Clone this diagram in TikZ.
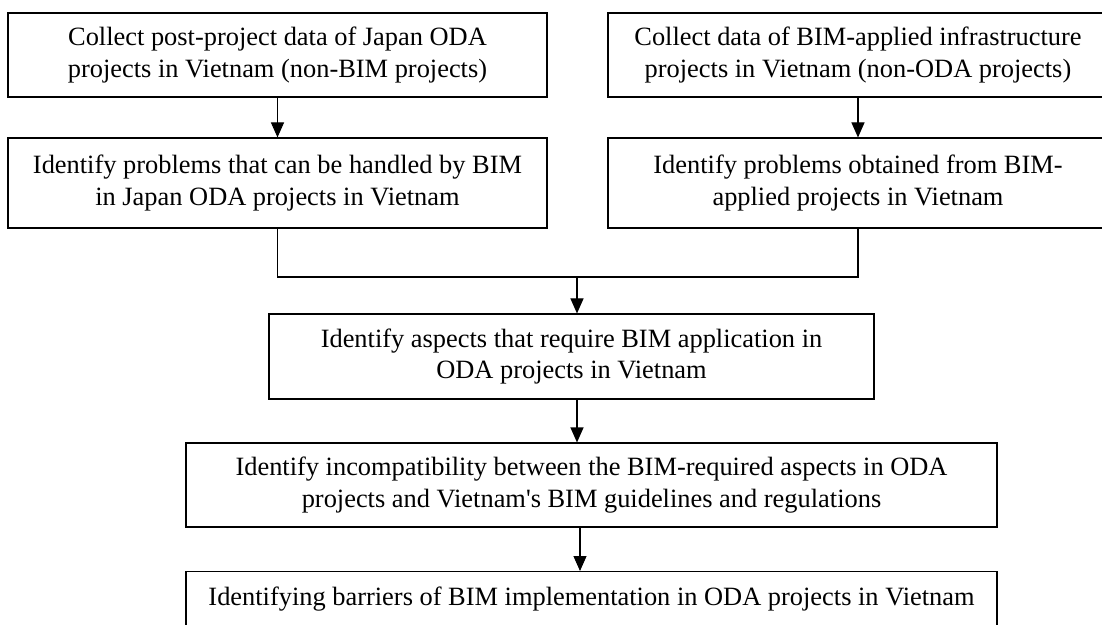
\documentclass[tikz,border=0pt]{standalone}
\usepackage{fontspec}
\setmainfont{Liberation Serif}
\usetikzlibrary{arrows.meta, positioning}

\tikzset{
  procbox/.style={draw, line width=1.1bp, align=center, inner sep=0pt,
    font=\fontsize{26.5}{31.5}\selectfont},
  flow/.style={line width=1.1bp, -{Triangle[length=15bp, width=13bp]}},
  joinline/.style={line width=1.1bp},
}

\begin{document}
\begin{tikzpicture}[x=1bp, y=-1bp]
  \useasboundingbox (0,0) rectangle (1102,625);
  \clip (0,0) rectangle (1102,625);

  % two data sources
  \node[procbox, minimum width=539bp, minimum height=84bp] (odadata) at (277.5,55) {Collect post-project data of Japan ODA\\projects in Vietnam (non-BIM projects)};
  \node[procbox, minimum width=500bp, minimum height=84bp] (bimdata) at (858,55) {Collect data of BIM-applied infrastructure\\projects in Vietnam (non-ODA projects)};

  \node[procbox, minimum width=539bp, minimum height=90bp] (odaprob) at (277.5,183) {Identify problems that can be handled by BIM\\in Japan ODA projects in Vietnam};
  \node[procbox, minimum width=500bp, minimum height=90bp] (bimprob) at (858,183) {Identify problems obtained from BIM-\\applied projects in Vietnam};

  % merged chain
  \node[procbox, minimum width=605bp, minimum height=85bp] (aspects) at (571.5,356.5) {Identify aspects that require BIM application in\\ODA projects in Vietnam};
  \node[procbox, minimum width=811bp, minimum height=84bp] (incompat) at (591.5,485) {Identify incompatibility between the BIM-required aspects in ODA\\projects and Vietnam\textquotesingle s BIM guidelines and regulations};
  \node[procbox, minimum width=811bp, anchor=north, inner ysep=4bp, text height=30bp, text depth=40bp] (barriers) at (591.5,571) {Identifying barriers of BIM implementation in ODA projects in Vietnam};

  \coordinate (merge) at (577,277);

  \draw[flow] (odadata) -- (odaprob);
  \draw[flow] (bimdata) -- (bimprob);
  \draw[joinline] (odaprob.south) |- (merge) -| (bimprob.south);
  \draw[flow] (merge) -- (merge |- aspects.north);
  \draw[flow] (aspects.south -| merge) -- (incompat.north -| merge);
  \draw[flow] ([xshift=3bp]incompat.south -| merge) -- ([xshift=3bp]barriers.north -| merge);
\end{tikzpicture}
\end{document}
